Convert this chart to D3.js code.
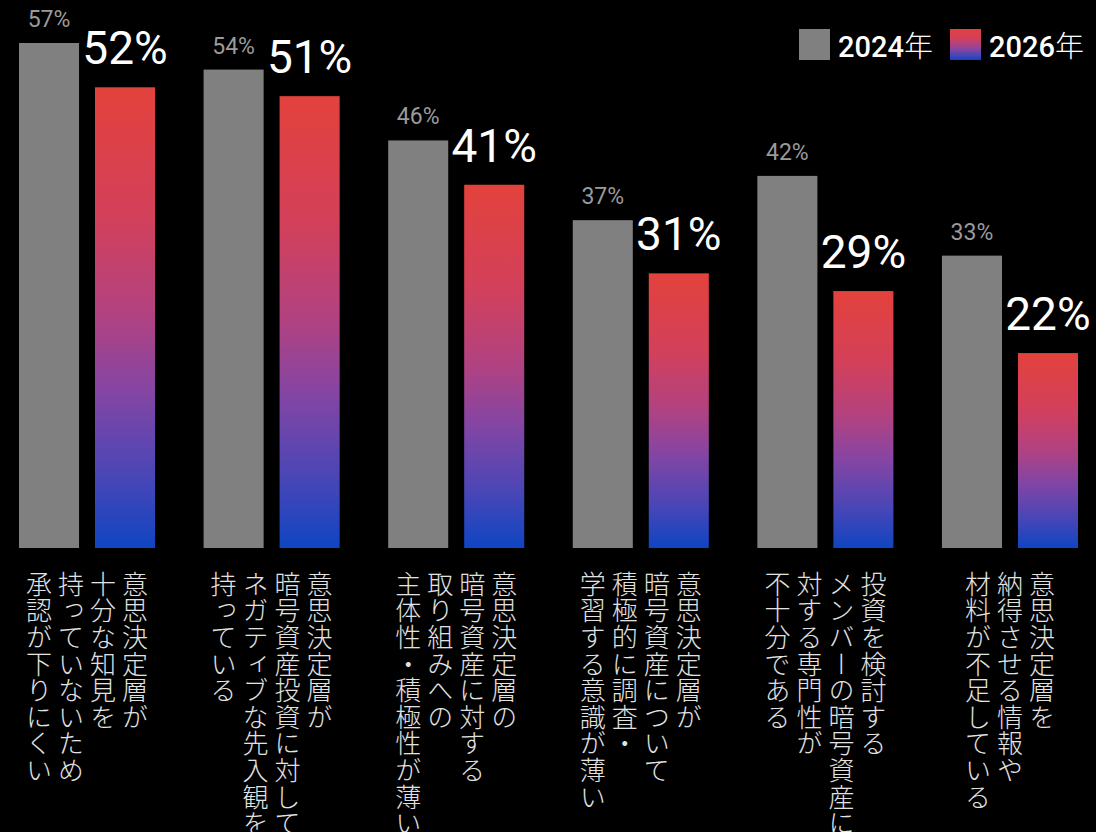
<!DOCTYPE html>
<html>
<head>
<meta charset="utf-8">
<script src="https://cdn.jsdelivr.net/npm/d3@7"></script>
<style>
  html, body { margin: 0; padding: 0; background: #000; }
  svg { display: block; }
</style>
</head>
<body>
<script>
// Survey items: reasons crypto-asset investment is not moving forward
const categories = [
  ["意思決定層が", "十分な知見を", "持っていないため", "承認が下りにくい"],
  ["意思決定層が", "暗号資産投資に対して", "ネガティブな先入観を", "持っている"],
  ["意思決定層の", "暗号資産に対する", "取り組みへの", "主体性・積極性が薄い"],
  ["意思決定層が", "暗号資産について", "積極的に調査・", "学習する意識が薄い"],
  ["投資を検討する", "メンバーの暗号資産に", "対する専門性が", "不十分である"],
  ["意思決定層を", "納得させる情報や", "材料が不足している"]
];
const values2024 = [57, 54, 46, 37, 42, 33];
const values2026 = [52, 51, 41, 31, 29, 22];
const seriesYears = ["2024", "2026"];
const yearSuffix = "年";

const W = 1096, H = 832;
const numFont = "Roboto, 'DejaVu Sans', sans-serif";
const jpFont = "'Noto Sans CJK JP', sans-serif";

const svg = d3.select("body").append("svg")
  .attr("width", W).attr("height", H)
  .style("background", "#000");

const defs = svg.append("defs");
const grad = defs.append("linearGradient")
  .attr("id", "grad2026")
  .attr("x1", 0).attr("y1", 0).attr("x2", 0).attr("y2", 1);
[[0, "#e3423c"], [0.28, "#d3405a"], [0.5, "#b04282"], [0.66, "#8445a4"],
 [0.84, "#4b46b6"], [1, "#0f45c2"]].forEach(([o, c]) =>
  grad.append("stop").attr("offset", o).attr("stop-color", c));

const idx = d3.range(categories.length);
const x0 = d3.scaleBand().domain(idx).range([19, 1078]).paddingInner(0.263);
const x1 = d3.scaleBand().domain([0, 1]).range([0, x0.bandwidth()]).paddingInner(0.21);
const y = d3.scaleLinear().domain([0, 57]).range([548, 43]);

const groups = svg.append("g").selectAll("g")
  .data(idx).join("g")
  .attr("transform", i => `translate(${x0(i)},0)`);

// 2024 bars
groups.append("rect")
  .attr("x", x1(0)).attr("width", x1.bandwidth())
  .attr("y", i => y(values2024[i]))
  .attr("height", i => y(0) - y(values2024[i]))
  .attr("fill", "#808080");

// 2026 bars
groups.append("rect")
  .attr("x", x1(1)).attr("width", x1.bandwidth())
  .attr("y", i => y(values2026[i]))
  .attr("height", i => y(0) - y(values2026[i]))
  .attr("fill", "url(#grad2026)");

// value labels
groups.append("text")
  .attr("x", x1(0) + x1.bandwidth() / 2)
  .attr("y", i => y(values2024[i]) - 16)
  .attr("text-anchor", "middle")
  .attr("font-family", numFont).attr("font-size", 23)
  .attr("fill", "#9a9a9a")
  .text(i => values2024[i] + "%");

groups.append("text")
  .attr("x", x1(1) + x1.bandwidth() / 2)
  .attr("y", i => y(values2026[i]) - 23)
  .attr("text-anchor", "middle")
  .attr("font-family", numFont).attr("font-size", 46).attr("font-weight", 400)
  .attr("fill", "#ffffff")
  .text(i => values2026[i] + "%");

// vertical category labels, columns right-to-left, centred under each group
const colGap = 32;
groups.each(function(i) {
  const lines = categories[i];
  const cx = x0.bandwidth() / 2;
  const right = cx + (lines.length - 1) * colGap / 2;
  d3.select(this).selectAll("text.cat")
    .data(lines).join("text")
    .attr("class", "cat")
    .attr("x", (d, k) => right - k * colGap)
    .attr("y", 571)
    .style("writing-mode", "vertical-rl")
    .style("letter-spacing", "0.6px")
    .attr("font-family", jpFont).attr("font-size", 26).attr("font-weight", 300)
    .attr("fill", "#e2e2e2")
    .text(d => d);
});

// legend
const legend = svg.append("g");
const legendItems = [
  { year: seriesYears[0], fill: "#808080", x: 799 },
  { year: seriesYears[1], fill: "url(#grad2026)", x: 950 }
];
legendItems.forEach(it => {
  legend.append("rect")
    .attr("x", it.x).attr("y", 29).attr("width", 31).attr("height", 31)
    .attr("fill", it.fill);
  const t = legend.append("text")
    .attr("x", it.x + 39).attr("y", 57)
    .attr("font-size", 29).attr("fill", "#ffffff");
  t.append("tspan").attr("font-family", numFont).attr("font-weight", 500).text(it.year);
  t.append("tspan").attr("font-family", jpFont).attr("font-weight", 300).text(yearSuffix);
});
</script>
</body>
</html>
